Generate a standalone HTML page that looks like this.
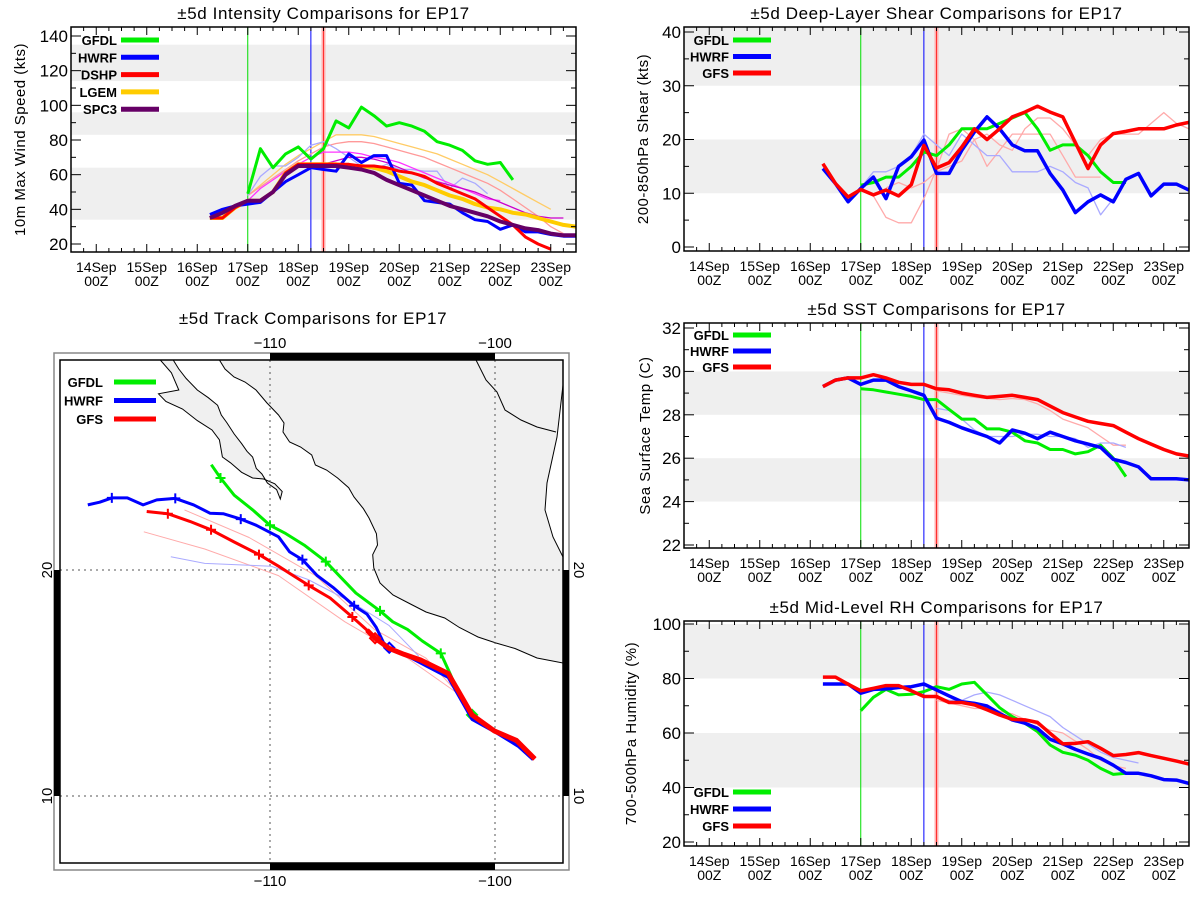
<!DOCTYPE html>
<html><head><meta charset="utf-8"><style>
body{margin:0;background:#fff;}
svg{display:block;font-family:"Liberation Sans",sans-serif;}
</style></head><body>
<svg id="fig" width="1200" height="900" viewBox="0 0 1200 900" xmlns="http://www.w3.org/2000/svg">
<rect width="1200" height="900" fill="#fff"/>
</svg>
<script>
// ---------- data (day 0 = 14Sep 00Z, 6-hourly) ----------
const dayLabels = ["14Sep","15Sep","16Sep","17Sep","18Sep","19Sep","20Sep","21Sep","22Sep","23Sep"];
const intTicks = [20,40,60,80,100,120,140];
const shearTicks = [0,10,20,30,40];
const sstTicks = [22,24,26,28,30,32];
const rhTicks = [20,40,60,80,100];
const markerDays = [3.0,4.25,4.5];

const intGFDL = [49,75,64,72,76,69,75,91,87,99,94,88,90,88,85,79,77,74,68,66,67,57];
const intHWRF = [37,40,42,43,44,50,56,60,64,63,62,72,67,71,71,55,54,45,44,43,38,34,33,28.5,31,27,27,25.5,24.5,24.5];
const intDSHP = [35,35,41,45,45,50,61,66,66,66,66,66,65,65,64,62,61,59,55,52,49,46,41,36,31,24,20,17];
const intLGEM = [35,35,41,45,45,50,61,66,66,66,66,65,65,64,62,59,56,54,51,48,46,43,41,40,38,37,35,33,31,30];
const intSPC3 = [35,38,42,45,45,50,60,65,65,65,65,64,63,61,57,54,51,48,45,42,40,38,36,33,31,29,28,26,25,25];
const intFaint1 = [48,54,60,66,71,75,79,83,83,83,82,80,78,76,74,72,69,66,63,60,56,52,48,44,40];
const intFaint2 = [48,53,58,63,68,72,76,78,79,79,78,76,74,72,70,67,64,61,58,55,51,46,41,36,30,26];
const intFaint3 = [48,59,65,65,70,77,79,75,70,65,63,66,63,63,62,62,52,58,55,49];
const intFaint4 = [45,52,57,62,66,70,73,73,73,72,70,69,67,64,61,58,55,52,49,46,45];
const intFaint5 = [66,68,70,70,69,67,64,61,58,56,54,52,50,47,44,41,38,36,35,35];

const shGFDL = [11.5,12,13,13,15,17.7,17,19,22,22,22,23,24,25,22,18,19,19,17,14,12,12];
const shHWRF = [14.6,11.8,8.4,10.9,13,9,15,16.8,19.9,13.7,13.7,18,21.4,24.2,22,19,17.9,17.9,13.7,10.6,6.4,8.4,9.7,8.4,12.6,13.7,9.5,11.7,11.7,10.6];
const shGFS = [15.5,11.8,9.3,10.7,9.7,10.6,9.5,11.6,18.9,14.7,15.7,18.6,22,20,22,24.2,25.1,26.2,25.1,24.2,19.4,14.6,19,21.1,21.5,22,22,22,22.7,23.2];
const shFaintR1 = [11,9.5,5.5,4.5,4.5,9,14.5,21,22,20,15,18,21,21,21,21,17,13,13,13];
const shFaintR2 = [11,12,11,12,14,15,16,20,21,19,18,22,24,24,22,19,17,20,21,21,21,23,25,23,22];
const shFaintB1 = [11,14,14,15,17,21,19,17,21,19,17,17,14,14,14,15,14,12,11,6,9];

const sstGFS = [29.3,29.6,29.7,29.7,29.85,29.7,29.5,29.4,29.4,29.2,29.15,29.0,28.9,28.8,28.85,28.9,28.8,28.7,28.4,28.1,27.9,27.7,27.6,27.5,27.2,26.9,26.65,26.4,26.2,26.1];
const sstHWRF = [29.3,29.6,29.7,29.4,29.6,29.6,29.3,29.1,28.9,27.85,27.65,27.4,27.2,27.0,26.7,27.3,27.15,26.9,27.2,27.0,26.8,26.65,26.5,25.95,25.8,25.6,25.05,25.05,25.05,25.0];
const sstGFDL = [29.2,29.15,29.05,28.95,28.85,28.7,28.7,28.25,27.8,27.8,27.35,27.35,27.2,26.8,26.7,26.4,26.4,26.2,26.3,26.6,26.0,25.15];
const sstFaintR = [29.1,29.0,28.9,28.8,28.75,28.7,28.75,28.7,28.5,28.2,27.8,27.6,27.4,27.0,26.6,26.6];
const sstFaintB = [28.3,28.2,27.8,27.3,27.0,27.0,27.0,27.1,27.1,27.0,27.0,26.9,26.5,26.7,26.7,26.5];

const rhGFS = [80.5,80.5,77.9,75.5,76.4,77.4,77.4,75.5,73.4,73.4,71.2,71.2,70.3,68.5,66.6,65,64.8,63.9,59.9,56,56.2,56.8,54.4,51.7,52.1,52.8,51.7,50.7,49.7,48.6];
const rhHWRF = [78,78,78,74.6,76,76.2,76.7,77,78,75.8,73.6,71.5,70.9,69.9,67.2,64.8,63.6,61.7,57.7,56,54,52.3,50.7,48.2,45.2,45.2,44.3,42.9,42.7,41.5];
const rhGFDL = [68.2,73.1,76,74,74.2,75.2,77,76,78,78.6,74,69.3,66,63.6,60.5,55.6,52.9,51.9,50,47,44.8,45.2];
const rhFaintB = [73,72,72,74,75,74,72,70,68,66,62,59,56,53,51,50,49];
const rhFaintR = [72,71,70,69,69,68,67,65,63,61,60,57,54,50,48,47];

// tracks (lon, lat)
const trkGFDLlon = [-112.61,-112.20,-111.59,-110.77,-110.0,-109.30,-108.48,-107.52,-106.84,-106.18,-105.11,-104.54,-103.89,-103.23,-102.41,-102.0,-101.59,-101.02];
const trkGFDLlat = [24.66,24.07,23.31,22.66,21.98,21.61,21.10,20.37,19.66,18.98,18.19,17.71,17.37,16.86,16.31,15.42,14.49,13.59];
const trkHWRFlon = [-118.10,-117.57,-117.03,-116.34,-115.64,-115.03,-114.21,-113.39,-112.66,-112.08,-111.30,-110.61,-109.62,-109.13,-108.56,-107.90,-107.16,-106.26,-105.69,-105.28,-104.95,-104.70,-103.89,-103.07,-102.08,-101.02,-99.95,-98.97,-98.31];
const trkHWRFlat = [22.88,23.00,23.19,23.19,22.88,23.10,23.17,22.88,22.51,22.49,22.25,21.98,21.47,20.80,20.46,19.75,19.20,18.42,18.05,17.46,16.78,16.56,16.19,15.76,15.25,13.39,12.80,12.20,11.61];
const trkGFSlon = [-115.48,-114.54,-113.56,-112.62,-111.59,-110.49,-109.62,-108.97,-108.28,-107.33,-106.34,-105.69,-105.33,-104.70,-104.05,-103.31,-102.08,-101.59,-101.02,-100.03,-99.05,-98.23];
const trkGFSlat = [22.59,22.49,22.15,21.78,21.24,20.68,20.17,19.75,19.32,18.76,17.92,17.34,16.98,16.53,16.27,16.02,15.42,14.58,13.59,12.88,12.46,11.64];
const trkFaintR1lon = [-113.80,-110.93,-107.98,-105.36,-103.07,-101.43];
const trkFaintR1lat = [22.66,21.44,19.75,17.37,16.10,14.32];
const trkFaintR2lon = [-115.61,-112.90,-109.62,-106.67,-103.89,-101.59];
const trkFaintR2lat = [21.69,20.93,19.75,17.71,16.10,14.49];
const trkFaintBlon = [-114.41,-112.90,-109.95,-108.31,-106.34,-104.70,-103.39];
const trkFaintBlat = [20.59,20.29,20.17,19.58,18.56,17.54,16.19];
const lonTicks = [-110,-100];
const latTicks = [10,20];

// ---------- helpers ----------
const NS="http://www.w3.org/2000/svg";
const fig=document.getElementById('fig');
function mk(tag,attrs,parent){const e=document.createElementNS(NS,tag);for(const k in attrs)e.setAttribute(k,attrs[k]);(parent||fig).appendChild(e);return e;}
function txt(s,x,y,attrs,parent){const e=mk('text',Object.assign({x:x,y:y},attrs),parent);e.textContent=s;return e;}

function timePanel(cfg){
  const g=mk('g',{});
  
  
  const L=cfg.L,R=cfg.R,T=cfg.T,B=cfg.B;
  const xs=d=>L+(d+0.5)/10*(R-L);
  const ys=v=>cfg.p1+(v-cfg.v1)*(cfg.p2-cfg.p1)/(cfg.v2-cfg.v1);
  const clipId='clip-'+cfg.name;
  const cp=mk('clipPath',{id:clipId},g);mk('rect',{x:L,y:T,width:R-L,height:B-T},cp);
  cfg.bands.forEach(b=>{
    const y1=Math.max(T,ys(b[1])),y2=Math.min(B,ys(b[0]));
    const r=mk('rect',{x:L,y:y1,width:R-L,height:y2-y1,fill:'#efefef'},g);
    
    
  });
  const vcols=['#00dd00','#0000ff','#ff3030'];
  markerDays.forEach((d,i)=>{
    if(i===2) mk('line',{x1:xs(d),x2:xs(d),y1:T,y2:B,stroke:'#ffb0b0','stroke-width':4},g);
    const l=mk('line',{x1:xs(d),x2:xs(d),y1:T,y2:B,stroke:vcols[i],'stroke-width':1},g);
    
    
  });
  const sg=mk('g',{'clip-path':'url(#'+clipId+')'},g);
  cfg.series.forEach(s=>{
    const pts=s.vals.map((v,i)=>xs(s.d0+i*0.25).toFixed(1)+','+ys(v).toFixed(1)).join(' ');
    const p=mk('polyline',{points:pts,fill:'none',stroke:s.c,'stroke-width':s.w,'stroke-linejoin':'round',opacity:s.o||1},sg);
    
    
  });
  const fr=mk('rect',{x:L,y:T,width:R-L,height:B-T,fill:'none',stroke:'#000','stroke-width':1.5},g);
  
  
  for(let q=-2;q<=38;q++){const d=q*0.25;const x=xs(d);if(x<L||x>R)continue;const len=(q%4===0)?8:4;
    mk('line',{x1:x,x2:x,y1:B,y2:B-len,stroke:'#000'},g);mk('line',{x1:x,x2:x,y1:T,y2:T+len,stroke:'#000'},g);}
  dayLabels.forEach((s,i)=>{
    const t1=txt(s,xs(i),B+20,{'font-size':14,'text-anchor':'middle'},g);
    
    
    const t2=txt('00Z',xs(i),B+34,{'font-size':14,'text-anchor':'middle'},g);
    
    
  });
  const step=cfg.ticks[1]-cfg.ticks[0];
  for(let v=cfg.ticks[0];v<=cfg.ticks[cfg.ticks.length-1]+1e-6;v+=step/2){
    const y=ys(v);const major=Math.abs(((v-cfg.ticks[0])/step)-Math.round((v-cfg.ticks[0])/step))<1e-6;const len=major?10:5;
    mk('line',{x1:L,x2:L+len,y1:y,y2:y,stroke:'#000'},g);mk('line',{x1:R,x2:R-len,y1:y,y2:y,stroke:'#000'},g);
  }
  cfg.ticks.forEach(v=>{
    const t=txt(String(v),L-3,ys(v)+6,{'font-size':17,'text-anchor':'end'},g);
    
    
  });
  const yt=txt(cfg.ytitle,0,0,{'font-size':15,'text-anchor':'middle','letter-spacing':'0.5',transform:'translate('+cfg.ytx+','+((T+B)/2)+') rotate(-90)'},g);
  
  
  const tt=txt(cfg.title,(L+R)/2,cfg.titleY,{'font-size':17,'text-anchor':'middle','letter-spacing':'0.6'},g);
  
  
  cfg.legend.forEach((e,i)=>{
    const y=cfg.legY+i*cfg.legDy;
    const t=txt(e[0],cfg.legX,y+5,{'font-size':13,'text-anchor':'end','font-weight':'bold'},g);
    
    
    mk('line',{x1:cfg.legX+4,x2:cfg.legX+42,y1:y,y2:y,stroke:e[1],'stroke-width':5},g);
  });
}

const G='#00ee00',BL='#0000ff',RD='#ff0000';
timePanel({name:'intensity-chart',L:71,R:576,T:27,B:252,v1:140,p1:36,v2:20,p2:244,ticks:intTicks,
  bands:[[34,64],[83,96],[114,135]],title:'\u00b15d Intensity Comparisons for EP17',titleY:19,
  ytitle:'10m Max Wind Speed (kts)',ytx:25,legX:117,legY:40,legDy:17.3,
  legend:[['GFDL',G],['HWRF',BL],['DSHP',RD],['LGEM','#ffcc00'],['SPC3','#660066']],
  series:[
   {n:'faint-lgem-1',d0:3.0,vals:intFaint1,c:'#ffcc66',w:1.3},
   {n:'faint-dshp-1',d0:3.0,vals:intFaint2,c:'#ff9999',w:1.3},
   {n:'faint-hwrf-1',d0:3.0,vals:intFaint3,c:'#aaaaff',w:1.3},
   {n:'faint-spc3-1',d0:3.0,vals:intFaint4,c:'#ff33ff',w:1.3},
   {n:'faint-spc3-2',d0:4.5,vals:intFaint5,c:'#cc00cc',w:1.3},
   {n:'gfdl-line',d0:3.0,vals:intGFDL,c:G,w:3},
   {n:'lgem-line',d0:2.25,vals:intLGEM,c:'#ffcc00',w:4},
   {n:'hwrf-line',d0:2.25,vals:intHWRF,c:BL,w:3},
   {n:'dshp-line',d0:2.25,vals:intDSHP,c:RD,w:3},
   {n:'spc3-line',d0:2.25,vals:intSPC3,c:'#660066',w:4}]});

timePanel({name:'shear-chart',L:684,R:1189,T:27,B:251,v1:40,p1:32,v2:0,p2:247,ticks:shearTicks,
  bands:[[10,20],[30,42]],title:'\u00b15d Deep-Layer Shear Comparisons for EP17',titleY:19,
  ytitle:'200-850hPa Shear (kts)',ytx:648,legX:729,legY:40,legDy:16.5,
  legend:[['GFDL',G],['HWRF',BL],['GFS',RD]],
  series:[
   {n:'faint-gfs-1',d0:3.0,vals:shFaintR1,c:'#ffaaaa',w:1.3},
   {n:'faint-gfs-2',d0:3.5,vals:shFaintR2,c:'#ffaaaa',w:1.3},
   {n:'faint-hwrf-1',d0:3.0,vals:shFaintB1,c:'#aaaaff',w:1.3},
   {n:'gfdl-line',d0:3.0,vals:shGFDL,c:G,w:3},
   {n:'hwrf-line',d0:2.25,vals:shHWRF,c:BL,w:3.5},
   {n:'gfs-line',d0:2.25,vals:shGFS,c:RD,w:3.5}]});

timePanel({name:'sst-chart',L:684,R:1189,T:323,B:548,v1:32,p1:328,v2:22,p2:545,ticks:sstTicks,
  bands:[[24,26],[28,30]],title:'\u00b15d SST Comparisons for EP17',titleY:315,
  ytitle:'Sea Surface Temp (C)',ytx:650,legX:729,legY:335,legDy:16,
  legend:[['GFDL',G],['HWRF',BL],['GFS',RD]],
  series:[
   {n:'faint-gfs-1',d0:4.5,vals:sstFaintR,c:'#ffaaaa',w:1.3},
   {n:'faint-hwrf-1',d0:4.5,vals:sstFaintB,c:'#aaaaff',w:1.3},
   {n:'gfdl-line',d0:3.0,vals:sstGFDL,c:G,w:3},
   {n:'hwrf-line',d0:2.25,vals:sstHWRF,c:BL,w:3.5},
   {n:'gfs-line',d0:2.25,vals:sstGFS,c:RD,w:3.5}]});

timePanel({name:'rh-chart',L:684,R:1189,T:621,B:846,v1:100,p1:624,v2:20,p2:842,ticks:rhTicks,
  bands:[[40,60],[80,100]],title:'\u00b15d Mid-Level RH Comparisons for EP17',titleY:613,
  ytitle:'700-500hPa Humidity (%)',ytx:636,legX:729,legY:792,legDy:17,
  legend:[['GFDL',G],['HWRF',BL],['GFS',RD]],
  series:[
   {n:'faint-hwrf-1',d0:4.5,vals:rhFaintB,c:'#aaaaff',w:1.3},
   {n:'faint-gfs-1',d0:4.5,vals:rhFaintR,c:'#ffaaaa',w:1.3},
   {n:'gfdl-line',d0:3.0,vals:rhGFDL,c:G,w:3},
   {n:'hwrf-line',d0:2.25,vals:rhHWRF,c:BL,w:3.5},
   {n:'gfs-line',d0:2.25,vals:rhGFS,c:RD,w:3.5}]});

// ---------- track map ----------
(function(){
  const g=mk('g',{});
  
  
  const L=60,R=563,T=360,B=863;
  const px=lon=>270+(lon+110)*22.5;
  const py=lat=>570-(lat-20)*22.6;
  const tt=txt('\u00b15d Track Comparisons for EP17',313,324,{'font-size':17,'text-anchor':'middle','letter-spacing':'0.6'},g);
  
  
  mk('rect',{x:54,y:353,width:515,height:517,fill:'none',stroke:'#888','stroke-width':1.5},g);
  const cp=mk('clipPath',{id:'mapclip'},g);mk('rect',{x:L,y:T,width:R-L,height:B-T},cp);
  const mg=mk('g',{'clip-path':'url(#mapclip)'},g);
  const land=mk('path',{d:'M219.4,360 L225,369 L234,377 L245,382 L256,390 L267,403 L278.5,415 L284,423 L283,432 L289.6,442 L300.6,447 L311.7,455 L315.4,465 L326.5,470 L337.6,478 L348.7,487.7 L354,497 L363.4,508.7 L369,518 L376.4,533.6 L377.5,545 L372.7,554.7 L373.8,568 L380,583 L393,595 L411.4,604.5 L426,612 L444.7,618 L459.4,627.5 L478,637 L496,643 L515,648.5 L537,658 L563,663 L563,557 L553,537 L545,510 L547,483 L557,437 L563,385 L563,360 Z',fill:'#f0f0f0',stroke:'#000','stroke-width':1},mg);
  
  
  const baja=mk('path',{d:'M160.3,360 L171.4,372.8 L178.8,390 L158.5,393.8 L165.9,401.5 L182.5,409 L197.3,420.6 L212,430 L219.4,439.8 L222.4,457 L230.5,462.8 L241.6,472.3 L252.6,478 L263.7,479 L274.8,483.8 L282.2,491.5 L280.3,499 L276.6,489.6 L267.4,483 L261.9,474 L256.3,468.5 L252.6,457 L247,451.3 L241.6,443.6 L234.2,434 L226.8,422.6 L221.3,415 L217.6,405.3 L208.3,397.7 L197.3,390 L186.2,378.5 L178.8,369 L173.2,360 Z',fill:'#f0f0f0',stroke:'#000','stroke-width':1},mg);
  
  
  mk('path',{d:'M476,360 L486,380 L497,392 L505,410 L521,420 L537,427 L556,432',fill:'none',stroke:'#000','stroke-width':1},mg);
  lonTicks.forEach(v=>{mk('line',{x1:px(v),x2:px(v),y1:T,y2:B,stroke:'#555','stroke-dasharray':'2,4'},mg);});
  latTicks.forEach(v=>{mk('line',{x1:L,x2:R,y1:py(v),y2:py(v),stroke:'#555','stroke-dasharray':'2,4'},mg);});
  function trk(lons,lats,col,w,name,marks,diam){
    const pts=lons.map((v,i)=>px(v).toFixed(1)+','+py(lats[i]).toFixed(1)).join(' ');
    const p=mk('polyline',{points:pts,fill:'none',stroke:col,'stroke-width':w,'stroke-linejoin':'round'},mg);
    
    
    (marks||[]).forEach(i=>{const x=px(lons[i]),y=py(lats[i]);
      mk('path',{d:'M'+(x-5)+','+y+'h10M'+x+','+(y-5)+'v10',stroke:col,'stroke-width':2},mg);});
    if(diam!=null){const x=px(lons[diam]),y=py(lats[diam]);
      mk('path',{d:'M'+x+','+(y-5)+'l5,5l-5,5l-5,-5z',fill:'none',stroke:col,'stroke-width':2},mg);}
  }
  trk(trkFaintR1lon,trkFaintR1lat,'#ffaaaa',1,'faint-gfs-track-1');
  trk(trkFaintR2lon,trkFaintR2lat,'#ffaaaa',1,'faint-gfs-track-2');
  trk(trkFaintBlon,trkFaintBlat,'#aaaaff',1,'faint-hwrf-track');
  trk(trkGFDLlon,trkGFDLlat,G,3,'gfdl-track',[1,4,7,10,14],17);
  trk(trkHWRFlon,trkHWRFlat,BL,3,'hwrf-track',[2,6,10,14,17],21);
  trk(trkGFSlon,trkGFSlat,RD,3,'gfs-track',[1,3,5,8,10],12);
  mk('polyline',{points:trkGFSlon.slice(11).map((v,i)=>px(v)+','+py(trkGFSlat[i+11])).join(' '),fill:'none',stroke:RD,'stroke-width':5},mg);
  mk('rect',{x:L,y:T,width:R-L,height:B-T,fill:'none',stroke:'#000','stroke-width':1.5},g);
  mk('rect',{x:px(-110),y:353,width:px(-100)-px(-110),height:7,fill:'#000'},g);
  mk('rect',{x:px(-110),y:863,width:px(-100)-px(-110),height:7,fill:'#000'},g);
  mk('rect',{x:54,y:py(20),width:6,height:py(10)-py(20),fill:'#000'},g);
  mk('rect',{x:563,y:py(20),width:6,height:py(10)-py(20),fill:'#000'},g);
  lonTicks.forEach(v=>{
    const a=txt(String(v).replace('-','\u2212'),px(v),348,{'font-size':15,'text-anchor':'middle'},g);
    
    
    const b=txt(String(v).replace('-','\u2212'),px(v),886,{'font-size':15,'text-anchor':'middle'},g);
    
    
  });
  latTicks.forEach(v=>{
    const a=txt(String(v),0,0,{'font-size':15,'text-anchor':'middle',transform:'translate(52,'+py(v)+') rotate(-90)'},g);
    
    
    const b=txt(String(v),0,0,{'font-size':15,'text-anchor':'middle',transform:'translate(574,'+py(v)+') rotate(90)'},g);
    
    
  });
  [['GFDL',G],['HWRF',BL],['GFS',RD]].forEach((e,i)=>{
    const y=382+i*18.5;
    const t=txt(e[0],103,y+5,{'font-size':13,'text-anchor':'end','font-weight':'bold'},g);
    
    
    mk('line',{x1:114,x2:156,y1:y,y2:y,stroke:e[1],'stroke-width':5},g);
  });
})();
</script>
</body></html>
